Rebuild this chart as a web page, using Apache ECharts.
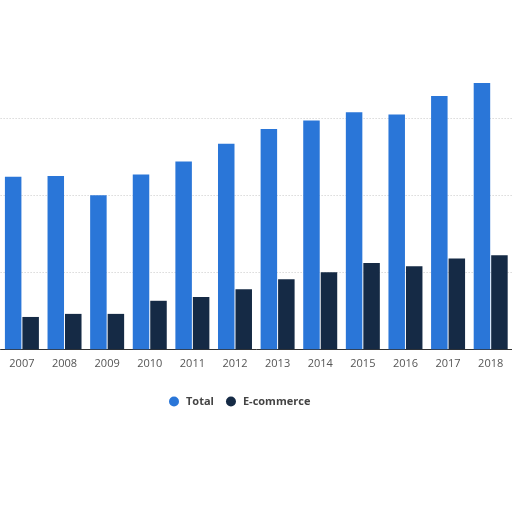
<!DOCTYPE html>
<html>
<head>
<meta charset="utf-8">
<script src="https://cdn.jsdelivr.net/npm/echarts@6/dist/echarts.min.js"></script>
<style>html,body{margin:0;padding:0;background:#fff;}#c{width:512px;height:512px;}</style>
</head>
<body>
<div id="c"></div>
<script>
var years = ['2007','2008','2009','2010','2011','2012','2013','2014','2015','2016','2017','2018'];
var totalValues = [2240, 2250, 2000, 2270, 2440, 2670, 2860, 2970, 3080, 3050, 3290, 3460];
var ecommerceValues = [420, 460, 460, 630, 680, 780, 910, 1000, 1120, 1080, 1180, 1220];
var seriesNames = ['Total', 'E-commerce'];

var chart = echarts.init(document.getElementById('c'), null, {renderer: 'canvas'});
chart.setOption({
  animation: false,
  backgroundColor: '#ffffff',
  textStyle: {fontFamily: 'Open Sans'},
  grid: {left: 0.6, width: 513.8, top: 72.1, bottom: 162.7, containLabel: false},
  legend: {
    data: seriesNames,
    left: 164,
    top: 391,
    icon: 'circle',
    itemWidth: 10,
    itemHeight: 10,
    itemGap: 12,
    textStyle: {color: '#444', fontSize: 11, fontWeight: 'bold', fontFamily: 'Open Sans', padding: [0, 0, 0, 2]}
  },
  xAxis: {
    type: 'category',
    data: years,
    axisLine: {show: true, lineStyle: {color: '#333', width: 1}},
    axisTick: {show: false},
    axisLabel: {color: '#555', fontSize: 11, margin: 9, fontFamily: 'Open Sans'}
  },
  yAxis: {
    type: 'value',
    min: 0,
    max: 3600,
    interval: 1000,
    axisLine: {show: false},
    axisTick: {show: false},
    axisLabel: {show: false},
    splitLine: {show: true, showMaxLine: false, lineStyle: {color: '#c8c8c8', type: [1, 2], width: 1}}
  },
  series: [
    {name: seriesNames[0], type: 'bar', data: totalValues, barWidth: 16.5, barGap: '6%',
     itemStyle: {color: '#2a76d8'}},
    {name: seriesNames[1], type: 'bar', data: ecommerceValues, barWidth: 16.5, barGap: '6%',
     itemStyle: {color: '#152a45'}}
  ]
});
</script>
</body>
</html>
